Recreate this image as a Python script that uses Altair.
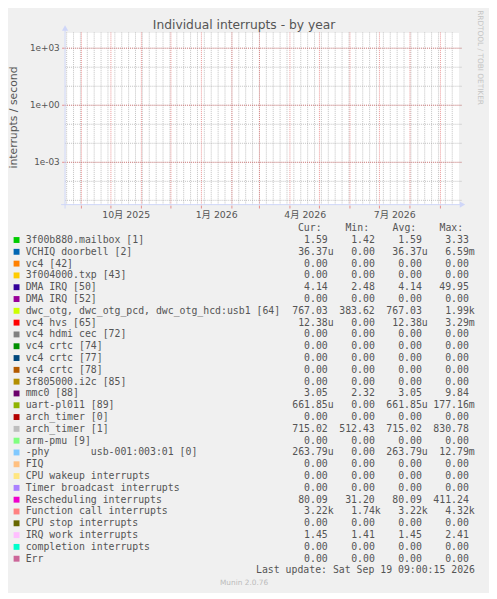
import altair as alt
import pandas as pd

# ---------------- data ----------------
TITLE = "Individual interrupts - by year"
Y_TITLE = "interrupts / second"
WATERMARK = "RRDTOOL / TOBI OETIKER"
LAST_UPDATE = "Last update: Sat Sep 19 09:00:15 2026"
FOOTER = "Munin 2.0.76"

labels = [
    "3f00b880.mailbox [1]", "VCHIQ doorbell [2]", "vc4 [42]", "3f004000.txp [43]",
    "DMA IRQ [50]", "DMA IRQ [52]", "dwc_otg, dwc_otg_pcd, dwc_otg_hcd:usb1 [64]",
    "vc4 hvs [65]", "vc4 hdmi cec [72]", "vc4 crtc [74]", "vc4 crtc [77]", "vc4 crtc [78]",
    "3f805000.i2c [85]", "mmc0 [88]", "uart-pl011 [89]", "arch_timer [0]", "arch_timer [1]",
    "arm-pmu [9]", "-phy       usb-001:003:01 [0]", "FIQ", "CPU wakeup interrupts",
    "Timer broadcast interrupts", "Rescheduling interrupts", "Function call interrupts",
    "CPU stop interrupts", "IRQ work interrupts", "completion interrupts", "Err",
]
colors = [
    "#00CC00", "#0066B3", "#FF8000", "#FFCC00", "#330099", "#990099", "#CCFF00",
    "#FF0000", "#808080", "#008F00", "#00487D", "#B35A00", "#B38F00", "#6B006B",
    "#8FB300", "#B30000", "#BEBEBE", "#80FF80", "#80C9FF", "#FFC080", "#FFE680",
    "#AA80FF", "#EE00CC", "#FF8080", "#666600", "#FFBFFF", "#00FFCC", "#CC6699",
]
cur = [1.59, 36.37e-6, 0, 0, 4.14, 0, 767.03, 12.38e-6, 0, 0, 0, 0, 0, 3.05,
       661.85e-6, 0, 715.02, 0, 263.79e-6, 0, 0, 0, 80.09, 3.22e3, 0, 1.45, 0, 0]
mins = [1.42, 0, 0, 0, 2.48, 0, 383.62, 0, 0, 0, 0, 0, 0, 2.32,
        0, 0, 512.43, 0, 0, 0, 0, 0, 31.20, 1.74e3, 0, 1.41, 0, 0]
avgs = [1.59, 36.37e-6, 0, 0, 4.14, 0, 767.03, 12.38e-6, 0, 0, 0, 0, 0, 3.05,
        661.85e-6, 0, 715.02, 0, 263.79e-6, 0, 0, 0, 80.09, 3.22e3, 0, 1.45, 0, 0]
maxs = [3.33, 6.59e-3, 0, 0, 49.95, 0, 1.99e3, 3.29e-3, 0, 0, 0, 0, 0, 9.84,
        177.16e-3, 0, 830.78, 0, 12.79e-3, 0, 0, 0, 411.24, 4.32e3, 0, 2.41, 0, 0]
col_heads = ["Cur:", "Min:", "Avg:", "Max:"]

x_tick_dates = ["2025-10-16T12:00:00Z", "2026-01-16T12:00:00Z",
                "2026-04-16T12:00:00Z", "2026-07-16T12:00:00Z"]
x_tick_labels = ["10月 2025", "1月 2026", "4月 2026", "7月 2026"]
y_major = [1e3, 1e0, 1e-3]
y_minor = [1e-5, 1e-4, 1e-3, 1e-2, 1e-1, 1e0, 1e1, 1e2, 1e3]

# ---------------- layout / style ----------------
W, H = 400, 175
PAD = {"left": 58, "top": 20, "right": 31, "bottom": 390}
BG = "#F0F0F0"
FG = "#555555"
AXIS_C = "#CFD6F8"
GRID_C = "#8F8F8F"
MGRID_C = "#DE4F4F"
SANS = "DejaVu Sans, Noto Sans CJK SC"
MONO = "DejaVu Sans Mono"
ROW0, ROWH = 211, 12

xs = alt.Scale(type="utc", nice=False, domain=[
    alt.DateTime(year=2025, month=8, date=15, hours=9, utc=True),
    alt.DateTime(year=2026, month=9, date=19, hours=9, utc=True)])
ys = alt.Scale(type="log", nice=False, domain=[10 ** -5.224, 10 ** 3.828])


def iso(ts):
    return ts.strftime("%Y-%m-%dT%H:%M:%SZ")


weeks = pd.DataFrame({"t": [iso(d) for d in pd.date_range("2025-08-17", "2026-09-19", freq="7D")]})
months = pd.DataFrame({"t": [iso(d) for d in pd.date_range("2025-09-01", "2026-09-01", freq="MS")]})
minor_df = pd.DataFrame({"v": y_minor})
major_df = pd.DataFrame({"v": y_major})
xlab_df = pd.DataFrame({"t": x_tick_dates, "s": x_tick_labels})
ylab_df = pd.DataFrame({"v": y_major, "s": [f"{v:.0e}" for v in y_major]})

dot = dict(strokeWidth=1, strokeDash=[1, 1])

g_week = alt.Chart(weeks).mark_rule(color=GRID_C, opacity=0.55, **dot).encode(
    x=alt.X("t:T", scale=xs, axis=None), y=alt.value(0), y2=alt.value(H))
g_month = alt.Chart(months).mark_rule(color=MGRID_C, opacity=0.6, **dot).encode(
    x=alt.X("t:T", scale=xs, axis=None), y=alt.value(0), y2=alt.value(H))
g_minor = alt.Chart(minor_df).mark_rule(color=GRID_C, opacity=0.55, **dot).encode(
    y=alt.Y("v:Q", scale=ys, axis=None), x=alt.value(0), x2=alt.value(W + 3))
g_major = alt.Chart(major_df).mark_rule(color=MGRID_C, opacity=0.6, **dot).encode(
    y=alt.Y("v:Q", scale=ys, axis=None), x=alt.value(0), x2=alt.value(W + 3))
t_major_y = alt.Chart(major_df).mark_rule(color=MGRID_C, opacity=0.6, strokeWidth=1).encode(
    y=alt.Y("v:Q", scale=ys, axis=None), x=alt.value(-3), x2=alt.value(0))
t_month = alt.Chart(months).mark_rule(color=MGRID_C, opacity=0.6, strokeWidth=1).encode(
    x=alt.X("t:T", scale=xs, axis=None), y=alt.value(H + 1), y2=alt.value(H + 4))

axis_df = pd.DataFrame({"k": [0]})
ax_left = alt.Chart(axis_df).mark_rule(color=AXIS_C, strokeWidth=1).encode(
    x=alt.value(0), y=alt.value(-3), y2=alt.value(H + 4))
ax_bottom = alt.Chart(axis_df).mark_rule(color=AXIS_C, strokeWidth=1).encode(
    y=alt.value(H), x=alt.value(-4), x2=alt.value(W + 3))
arr_up = alt.Chart(axis_df).mark_point(shape="triangle-up", filled=True, size=40,
                                       color=AXIS_C, opacity=1).encode(
    x=alt.value(0), y=alt.value(-4.5))
arr_right = alt.Chart(axis_df).mark_point(shape="triangle-right", filled=True, size=40,
                                          color=AXIS_C, opacity=1).encode(
    x=alt.value(W + 4), y=alt.value(H))

xlab = alt.Chart(xlab_df).mark_text(font=SANS, fontSize=9.5, color=FG, baseline="middle").encode(
    x=alt.X("t:T", scale=xs, axis=None), y=alt.value(H + 10.3), text="s:N")
ylab = alt.Chart(ylab_df).mark_text(font=SANS, fontSize=9, color=FG, align="right",
                                    baseline="middle").encode(
    y=alt.Y("v:Q", scale=ys, axis=None), x=alt.value(-5.5), text="s:N")

one = pd.DataFrame({"title": [TITLE], "ytitle": [Y_TITLE], "wm": [WATERMARK],
                    "lu": [LAST_UPDATE], "ft": [FOOTER]})
title = alt.Chart(one).mark_text(font=SANS, fontSize=12.5, color=FG, baseline="alphabetic").encode(
    x=alt.value(182), y=alt.value(-4), text="title:N")
ytitle = alt.Chart(one).mark_text(font=SANS, fontSize=11, color=FG, angle=270,
                                  baseline="top").encode(
    x=alt.value(-58), y=alt.value(86.5), text="ytitle:N")
wm = alt.Chart(one).mark_text(font=SANS, fontSize=7.5, color="#C4C4C4", angle=90,
                              baseline="middle").encode(
    x=alt.value(422.3), y=alt.value(25.5), text="wm:N")
lu = alt.Chart(one).mark_text(font=MONO, fontSize=10, color=FG, align="right",
                              baseline="middle").encode(
    x=alt.value(416.7), y=alt.value(ROW0 + ROWH * len(labels)), text="lu:N")
ft = alt.Chart(one).mark_text(font=SANS, fontSize=7.5, color="#BBBBBB", baseline="middle").encode(
    x=alt.value(182), y=alt.value(560), text="ft:N")

# legend rows
NB = "\u00a0"
leg = pd.DataFrame({
    "label": [s.replace(" ", NB) for s in labels],
    "color": colors,
    "py": [ROW0 + ROWH * i for i in range(len(labels))],
})
leg_sq = alt.Chart(leg).mark_point(shape="square", filled=True, size=36, opacity=1).encode(
    x=alt.value(-49.3), y=alt.Y("py:Q", scale=None, axis=None),
    color=alt.Color("color:N", scale=None, legend=None))
leg_tx = alt.Chart(leg).mark_text(font=MONO, fontSize=10, color=FG, align="left",
                                  baseline="middle").encode(
    x=alt.value(-40), y=alt.Y("py:Q", scale=None, axis=None), text="label:N")


def si(v):
    if v == 0:
        return "0.00", ""
    for p, s in [(1e3, "k"), (1.0, ""), (1e-3, "m"), (1e-6, "u")]:
        if abs(v) >= p:
            return f"{v / p:.2f}", s
    return f"{v / 1e-6:.2f}", "u"


field_end = [267.1, 314.9, 362.7, 410.5]
head_x = [236.7, 285.0, 333.0, 380.7]
rows = []
for ci, series in enumerate([cur, mins, avgs, maxs]):
    for i, v in enumerate(series):
        n, s = si(v)
        rows.append({"px": field_end[ci], "py": ROW0 + ROWH * i, "num": n, "suf": s})
vals = pd.DataFrame(rows)
sufs = vals[vals["suf"] != ""]
heads = pd.DataFrame({"px": head_x, "py": [ROW0 - ROWH] * 4, "s": col_heads})

v_num = alt.Chart(vals).mark_text(font=MONO, fontSize=10, color=FG, align="right",
                                  baseline="middle").encode(
    x=alt.X("px:Q", scale=None, axis=None), y=alt.Y("py:Q", scale=None, axis=None), text="num:N")
v_suf = alt.Chart(sufs).mark_text(font=MONO, fontSize=10, color=FG, align="left",
                                  baseline="middle").encode(
    x=alt.X("px:Q", scale=None, axis=None), y=alt.Y("py:Q", scale=None, axis=None), text="suf:N")
v_head = alt.Chart(heads).mark_text(font=MONO, fontSize=10, color=FG, align="left",
                                    baseline="middle").encode(
    x=alt.X("px:Q", scale=None, axis=None), y=alt.Y("py:Q", scale=None, axis=None), text="s:N")

chart = alt.layer(
    g_week, g_month, g_minor, g_major, t_major_y, t_month,
    ax_left, ax_bottom, arr_up, arr_right, xlab, ylab,
    title, ytitle, wm, lu, ft, leg_sq, leg_tx, v_head, v_num, v_suf,
).properties(
    width=W, height=H, background=BG, padding=PAD,
    autosize=alt.AutoSizeParams(type="none"),
).configure_view(fill="#FFFFFF", stroke="transparent")

chart.save("out.html", embed_options={"renderer": "svg", "actions": False})
